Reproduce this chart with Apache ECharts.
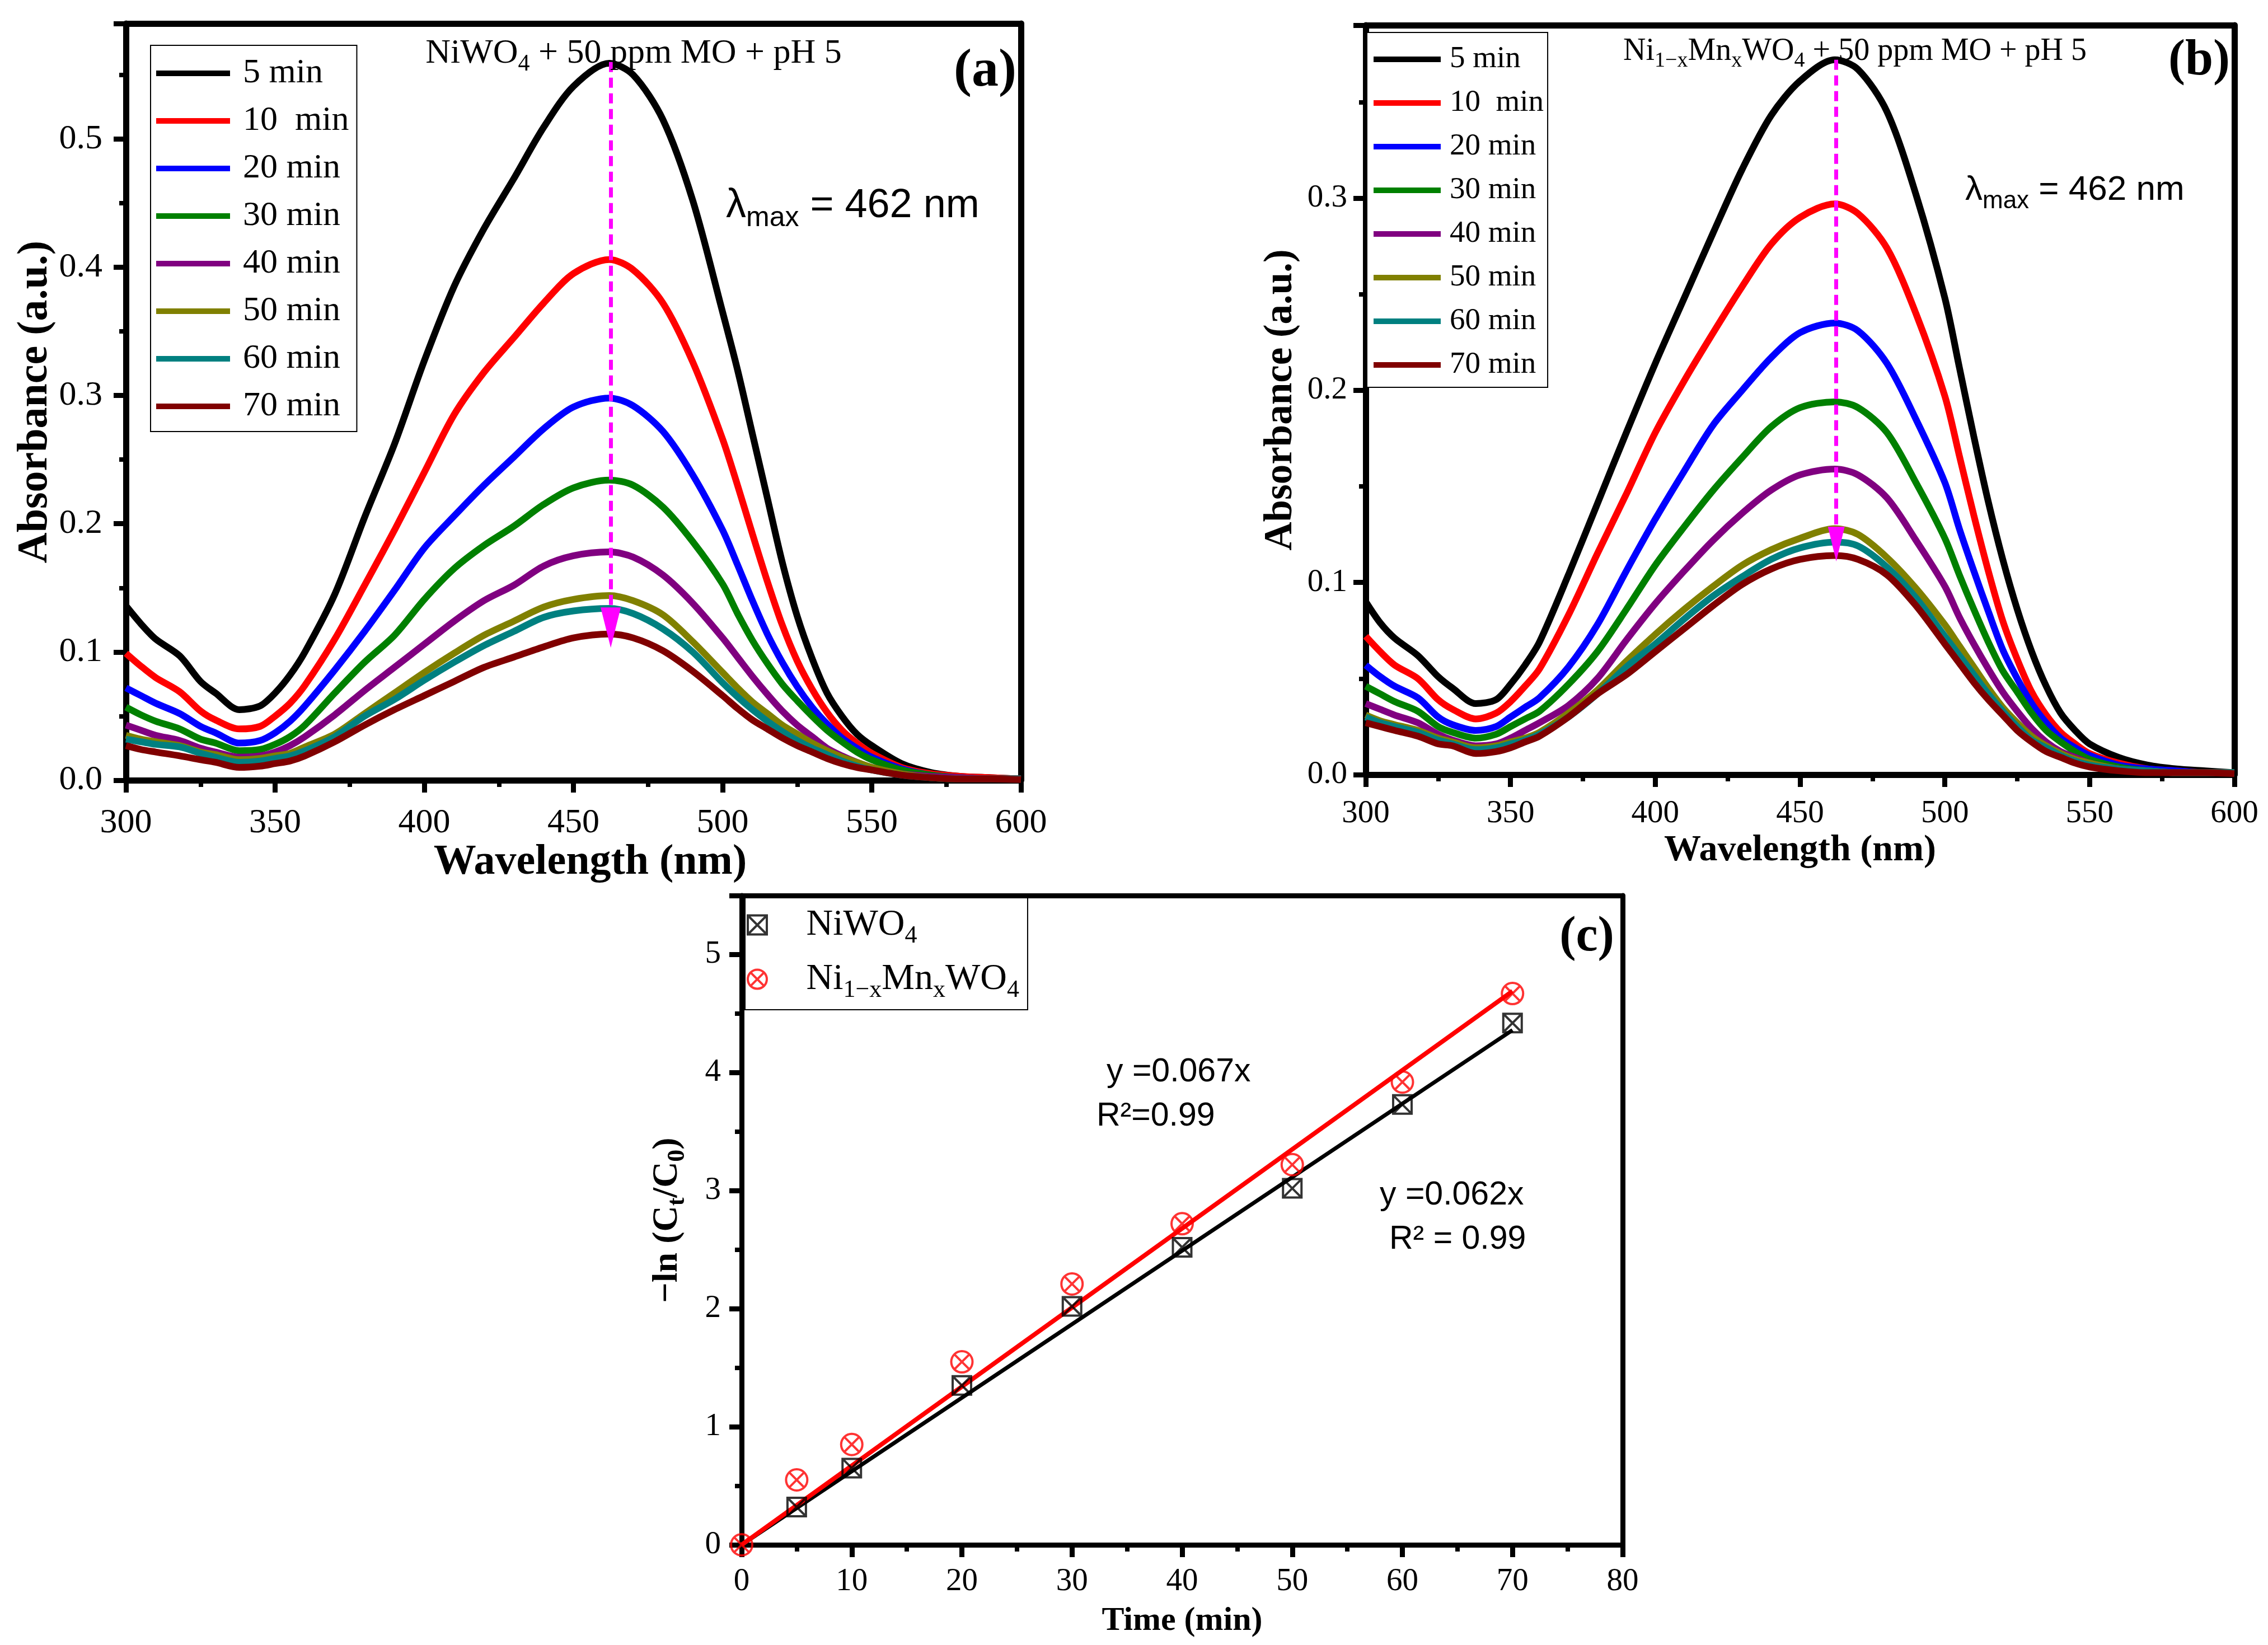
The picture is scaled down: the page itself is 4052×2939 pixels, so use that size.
<!DOCTYPE html>
<html>
<head>
<meta charset="utf-8">
<title>MO degradation spectra</title>
<script src="https://cdn.jsdelivr.net/npm/echarts@6/dist/echarts.min.js"></script>
<style>
  html, body { margin: 0; padding: 0; background: #fff; }
  #chart { width: 4052px; height: 2939px; }
</style>
</head>
<body>
<div id="chart"></div>
<script>
// wavelength grid (nm) shared by panels (a) and (b)
var wavelengths = [300, 305, 310, 318, 325, 330, 338, 345, 350, 355,
  360, 370, 380, 390, 400, 410, 420, 430, 440, 450,
  462, 470, 480, 490, 500, 505, 510, 515, 520, 525,
  530, 535, 540, 545, 550, 560, 570, 580, 590, 600];

var timeLabels = ['5 min', '10  min', '20 min', '30 min', '40 min', '50 min', '60 min', '70 min'];
var lineColors = ['#000000', '#FF0000', '#0000FF', '#008000', '#800080', '#808000', '#008080', '#800000'];

// (a) NiWO4 + 50 ppm MO + pH 5
var absA5 = [0.136, 0.122, 0.110, 0.097, 0.077, 0.068, 0.055, 0.058, 0.068, 0.082,
  0.100, 0.145, 0.205, 0.262, 0.327, 0.385, 0.430, 0.469, 0.509, 0.541,
  0.559, 0.550, 0.515, 0.452, 0.365, 0.320, 0.270, 0.220, 0.170, 0.128,
  0.095, 0.068, 0.050, 0.036, 0.027, 0.013, 0.006, 0.003, 0.002, 0.001];
var absA10 = [0.099, 0.089, 0.080, 0.069, 0.054, 0.047, 0.040, 0.042, 0.050, 0.060,
  0.074, 0.110, 0.152, 0.195, 0.240, 0.285, 0.318, 0.345, 0.372, 0.395,
  0.406, 0.398, 0.372, 0.326, 0.266, 0.230, 0.192, 0.155, 0.121, 0.093,
  0.071, 0.053, 0.039, 0.029, 0.021, 0.010, 0.005, 0.003, 0.002, 0.001];
var absA20 = [0.072, 0.066, 0.060, 0.052, 0.042, 0.037, 0.029, 0.031, 0.037, 0.046,
  0.058, 0.086, 0.116, 0.148, 0.181, 0.206, 0.230, 0.252, 0.274, 0.291,
  0.298, 0.292, 0.272, 0.238, 0.195, 0.168, 0.140, 0.114, 0.092, 0.073,
  0.057, 0.044, 0.033, 0.025, 0.018, 0.009, 0.004, 0.002, 0.001, 0.001];
var absA30 = [0.057, 0.051, 0.046, 0.040, 0.032, 0.029, 0.023, 0.024, 0.028, 0.034,
  0.043, 0.068, 0.092, 0.113, 0.141, 0.165, 0.183, 0.198, 0.215, 0.228,
  0.234, 0.230, 0.213, 0.186, 0.153, 0.130, 0.109, 0.091, 0.075, 0.062,
  0.050, 0.039, 0.030, 0.022, 0.016, 0.008, 0.004, 0.002, 0.001, 0.001];
var absA40 = [0.043, 0.039, 0.035, 0.031, 0.025, 0.022, 0.018, 0.019, 0.022, 0.027,
  0.034, 0.051, 0.070, 0.088, 0.106, 0.124, 0.140, 0.152, 0.167, 0.175,
  0.178, 0.174, 0.160, 0.138, 0.111, 0.096, 0.081, 0.067, 0.054, 0.043,
  0.034, 0.025, 0.019, 0.014, 0.010, 0.005, 0.003, 0.002, 0.001, 0.001];
var absA50 = [0.035, 0.032, 0.030, 0.027, 0.022, 0.020, 0.016, 0.017, 0.019, 0.021,
  0.026, 0.036, 0.052, 0.068, 0.084, 0.099, 0.113, 0.124, 0.135, 0.141,
  0.144, 0.140, 0.129, 0.108, 0.084, 0.072, 0.061, 0.052, 0.043, 0.036,
  0.029, 0.023, 0.018, 0.014, 0.010, 0.005, 0.002, 0.001, 0.001, 0.001];
var absA60 = [0.032, 0.030, 0.028, 0.026, 0.021, 0.018, 0.014, 0.015, 0.017, 0.019,
  0.023, 0.034, 0.050, 0.063, 0.078, 0.092, 0.105, 0.116, 0.127, 0.132,
  0.134, 0.130, 0.118, 0.100, 0.076, 0.065, 0.055, 0.046, 0.038, 0.031,
  0.025, 0.020, 0.015, 0.011, 0.008, 0.004, 0.002, 0.001, 0.001, 0.001];
var absA70 = [0.027, 0.024, 0.022, 0.019, 0.016, 0.014, 0.010, 0.011, 0.013, 0.015,
  0.019, 0.030, 0.043, 0.055, 0.066, 0.077, 0.088, 0.096, 0.104, 0.111,
  0.114, 0.111, 0.101, 0.085, 0.066, 0.056, 0.047, 0.040, 0.033, 0.027,
  0.022, 0.017, 0.013, 0.010, 0.008, 0.004, 0.002, 0.001, 0.001, 0.0005];

// (b) Ni1-xMnxWO4 + 50 ppm MO + pH 5
var absB5 = [0.090, 0.079, 0.071, 0.062, 0.051, 0.045, 0.037, 0.039, 0.047, 0.057,
  0.069, 0.104, 0.141, 0.178, 0.214, 0.248, 0.282, 0.315, 0.343, 0.361,
  0.372, 0.367, 0.345, 0.302, 0.248, 0.212, 0.176, 0.142, 0.112, 0.086,
  0.064, 0.046, 0.032, 0.023, 0.016, 0.009, 0.005, 0.003, 0.002, 0.001];
var absB10 = [0.072, 0.064, 0.057, 0.050, 0.039, 0.034, 0.029, 0.032, 0.038, 0.046,
  0.055, 0.083, 0.115, 0.146, 0.178, 0.205, 0.230, 0.254, 0.276, 0.290,
  0.297, 0.292, 0.274, 0.240, 0.197, 0.166, 0.135, 0.106, 0.080, 0.060,
  0.043, 0.031, 0.022, 0.016, 0.011, 0.006, 0.003, 0.002, 0.001, 0.001];
var absB20 = [0.057, 0.051, 0.046, 0.040, 0.030, 0.026, 0.023, 0.025, 0.030, 0.035,
  0.040, 0.056, 0.078, 0.106, 0.133, 0.158, 0.182, 0.200, 0.217, 0.230,
  0.235, 0.231, 0.214, 0.185, 0.152, 0.128, 0.106, 0.085, 0.065, 0.050,
  0.037, 0.027, 0.019, 0.014, 0.010, 0.005, 0.003, 0.002, 0.001, 0.001];
var absB30 = [0.046, 0.042, 0.038, 0.033, 0.025, 0.022, 0.019, 0.021, 0.025, 0.029,
  0.033, 0.047, 0.064, 0.086, 0.109, 0.129, 0.148, 0.165, 0.181, 0.191,
  0.194, 0.191, 0.178, 0.152, 0.123, 0.104, 0.086, 0.069, 0.054, 0.043,
  0.032, 0.023, 0.017, 0.012, 0.008, 0.004, 0.002, 0.001, 0.001, 0.001];
var absB40 = [0.037, 0.034, 0.031, 0.027, 0.021, 0.018, 0.015, 0.016, 0.019, 0.023,
  0.027, 0.036, 0.050, 0.070, 0.089, 0.106, 0.122, 0.136, 0.148, 0.156,
  0.159, 0.156, 0.144, 0.122, 0.098, 0.082, 0.068, 0.055, 0.043, 0.033,
  0.024, 0.017, 0.012, 0.009, 0.006, 0.003, 0.002, 0.001, 0.001, 0.001];
var absB50 = [0.031, 0.028, 0.026, 0.023, 0.019, 0.017, 0.014, 0.015, 0.017, 0.019,
  0.022, 0.032, 0.044, 0.059, 0.073, 0.086, 0.098, 0.109, 0.117, 0.123,
  0.128, 0.125, 0.113, 0.097, 0.078, 0.067, 0.056, 0.045, 0.035, 0.027,
  0.020, 0.015, 0.011, 0.008, 0.006, 0.003, 0.002, 0.001, 0.001, 0.001];
var absB60 = [0.030, 0.027, 0.025, 0.022, 0.018, 0.016, 0.013, 0.014, 0.016, 0.018,
  0.021, 0.030, 0.042, 0.056, 0.068, 0.081, 0.093, 0.103, 0.112, 0.118,
  0.121, 0.119, 0.108, 0.092, 0.072, 0.062, 0.052, 0.042, 0.033, 0.025,
  0.018, 0.014, 0.010, 0.007, 0.005, 0.003, 0.002, 0.001, 0.001, 0.001];
var absB70 = [0.027, 0.025, 0.023, 0.020, 0.016, 0.015, 0.011, 0.012, 0.014, 0.017,
  0.020, 0.030, 0.042, 0.052, 0.064, 0.076, 0.088, 0.099, 0.107, 0.112,
  0.114, 0.112, 0.104, 0.088, 0.068, 0.058, 0.048, 0.039, 0.031, 0.023,
  0.017, 0.012, 0.009, 0.006, 0.004, 0.002, 0.001, 0.001, 0.001, 0.0005];

// lambda max arrow: [wavelength, start absorbance, end absorbance]
var arrowA = [462.5, 0.560, 0.119];
var arrowB = [462.5, 0.372, 0.120];

// (c) kinetics, -ln(Ct/C0) vs time
var timeNiWO4 = [5, 10, 20, 30, 40, 50, 60, 70];
var lnNiWO4 = [0.32, 0.65, 1.35, 2.02, 2.52, 3.02, 3.73, 4.42];
var timeNiMnWO4 = [0, 5, 10, 20, 30, 40, 50, 60, 70];
var lnNiMnWO4 = [0, 0.55, 0.85, 1.55, 2.21, 2.72, 3.22, 3.92, 4.67];
var fitTime = [0, 70];
var fitNiWO4 = [0, 4.36];
var fitNiMnWO4 = [0, 4.69];

var serif = 'Liberation Serif';
var sans = 'Liberation Sans';

var squareX = 'path://M0,0 L40,0 L40,40 L0,40 Z M0,0 L40,40 M40,0 L0,40';
var circleX = 'path://M40,20 A20,20 0 1 1 0,20 A20,20 0 1 1 40,20 Z M6,6 L34,34 M34,6 L6,34';

function pairs(xs, ys) {
  return xs.map(function (x, i) { return [x, ys[i]]; });
}

function spectraSeries(arrays, idx, arrow, headSize) {
  return arrays.map(function (ys, i) {
    var s = {
      name: timeLabels[i],
      type: 'line',
      xAxisIndex: idx,
      yAxisIndex: idx,
      data: pairs(wavelengths, ys),
      symbol: 'none',
      smooth: 0.3,
      lineStyle: { color: lineColors[i], width: 12 },
      itemStyle: { color: lineColors[i] }
    };
    if (i === 0) {
      s.markLine = {
        silent: true,
        symbol: ['none', 'triangle'],
        label: { show: false },
        lineStyle: { color: '#FF00FF', type: [18, 10], width: 7 },
        itemStyle: { color: '#FF00FF' },
        data: [[
          { coord: [arrow[0], arrow[1]] },
          { coord: [arrow[0], arrow[2]], symbol: 'triangle', symbolSize: headSize }
        ]]
      };
    }
    return s;
  });
}

function axis(idx, lw, o) {
  return Object.assign({
    gridIndex: idx,
    type: 'value',
    splitLine: { show: false },
    axisLine: { show: true, onZero: false, lineStyle: { color: '#000', width: lw } },
    axisTick: { show: true, inside: false, length: 22, lineStyle: { color: '#000', width: 9 } },
    minorTick: { show: true, splitNumber: 2, length: 12, lineStyle: { color: '#000', width: 8 } },
    nameLocation: 'middle'
  }, o);
}

// plain frame edge (top / right side of a panel)
function edge(idx, lw, pos, min, max) {
  return {
    gridIndex: idx, type: 'value', position: pos, min: min, max: max,
    axisLine: { show: true, onZero: false, lineStyle: { color: '#000', width: lw } },
    axisTick: { show: false }, axisLabel: { show: false }, splitLine: { show: false }
  };
}

var labelFont = function (size, margin, fmt, hideMax) {
  var l = { fontFamily: serif, fontSize: size, color: '#000', margin: margin };
  if (fmt) l.formatter = fmt;
  if (hideMax) l.showMaxLabel = false;
  return l;
};
var titleFont = function (size) {
  return { fontFamily: serif, fontWeight: 'bold', fontSize: size, color: '#000' };
};
var oneDec = function (v) { return v.toFixed(1); };

var subRich = function (size, family, bold) {
  return { fontSize: size, fontFamily: family, fontWeight: bold ? 'bold' : 'normal', verticalAlign: 'bottom', lineHeight: size };
};

var option = {
  backgroundColor: '#fff',
  animation: false,
  grid: [
    { left: 225, top: 42, width: 1599, height: 1352 },
    { left: 2440, top: 45, width: 1552, height: 1339 },
    { left: 1325, top: 1600, width: 1574, height: 1160 }
  ],
  xAxis: [
    axis(0, 11, { min: 300, max: 600, interval: 50, axisLabel: labelFont(62, 46),
      name: 'Wavelength (nm)', nameGap: 97,
      nameTextStyle: Object.assign(titleFont(76), { padding: [0, 0, 0, 60] }) }),
    axis(1, 11, { min: 300, max: 600, interval: 50, axisLabel: labelFont(57, 42),
      name: 'Wavelength (nm)', nameGap: 103, nameTextStyle: titleFont(66) }),
    axis(2, 9, { min: 0, max: 80, interval: 10, axisLabel: labelFont(57, 38),
      name: 'Time (min)', nameGap: 106, nameTextStyle: titleFont(60) }),
    edge(0, 11, 'top', 300, 600),
    edge(1, 11, 'top', 300, 600),
    edge(2, 9, 'top', 0, 80)
  ],
  yAxis: [
    axis(0, 11, { min: 0, max: 0.59, interval: 0.1, axisLabel: labelFont(62, 42, oneDec, true),
      name: 'Absorbance (a.u.)', nameGap: 100, nameRotate: 90, nameTextStyle: titleFont(76) }),
    axis(1, 11, { min: 0, max: 0.39, interval: 0.1, axisLabel: labelFont(57, 33, oneDec, true),
      name: 'Absorbance (a.u.)', nameGap: 116, nameRotate: 90, nameTextStyle: titleFont(71) }),
    axis(2, 9, { min: 0, max: 5.5, interval: 1, axisLabel: labelFont(57, 37, null, true),
      name: '−ln (C{s|t}/C{s|0})', nameGap: 92, nameRotate: 90,
      nameTextStyle: Object.assign(titleFont(64), { lineHeight: 81, rich: { s: subRich(44, serif, true) } }) }),
    edge(0, 11, 'right', 0, 0.59),
    edge(1, 11, 'right', 0, 0.39),
    edge(2, 9, 'right', 0, 5.5)
  ],
  legend: [
    {
      orient: 'vertical', left: 269, top: 81,
      data: timeLabels, icon: 'rect', itemWidth: 132, itemHeight: 10, itemGap: 23,
      padding: [19, 14, 14, 10], borderColor: '#000', borderWidth: 2, backgroundColor: '#fff',
      textStyle: { fontFamily: serif, fontSize: 62, lineHeight: 62, color: '#000', padding: [0, 0, 0, 18] }
    },
    {
      orient: 'vertical', left: 2442, top: 58,
      data: timeLabels, icon: 'rect', itemWidth: 120, itemHeight: 10, itemGap: 22,
      padding: [20, 7, 12, 12], borderColor: '#000', borderWidth: 2, backgroundColor: '#fff',
      textStyle: { fontFamily: serif, fontSize: 55, lineHeight: 56, color: '#000', padding: [0, 0, 0, 11] }
    },
    {
      orient: 'vertical', left: 1331, top: 1604,
      data: ['NiWO4', 'Ni1-xMnxWO4'], itemWidth: 165, itemHeight: 34, itemGap: 14,
      padding: [7, 15, 13, 3], borderColor: '#000', borderWidth: 2,
      itemStyle: { borderWidth: 4 },
      formatter: function (name) {
        return name === 'NiWO4' ? 'NiWO{s|4}' : 'Ni{s|1−x}Mn{s|x}WO{s|4}';
      },
      textStyle: { fontFamily: serif, fontSize: 66, lineHeight: 83, color: '#000', rich: { s: subRich(44, serif) } }
    }
  ],
  series: []
    .concat(spectraSeries([absA5, absA10, absA20, absA30, absA40, absA50, absA60, absA70], 0, arrowA, [36, 72]))
    .concat(spectraSeries([absB5, absB10, absB20, absB30, absB40, absB50, absB60, absB70], 1, arrowB, [30, 62]))
    .concat([
      { name: 'fit NiWO4', type: 'line', xAxisIndex: 2, yAxisIndex: 2, data: pairs(fitTime, fitNiWO4),
        symbol: 'none', lineStyle: { color: '#000', width: 7 }, z: 2 },
      { name: 'fit Ni1-xMnxWO4', type: 'line', xAxisIndex: 2, yAxisIndex: 2, data: pairs(fitTime, fitNiMnWO4),
        symbol: 'none', lineStyle: { color: '#FF0000', width: 8 }, z: 2 },
      { name: 'NiWO4', type: 'scatter', xAxisIndex: 2, yAxisIndex: 2, data: pairs(timeNiWO4, lnNiWO4),
        symbol: squareX, symbolSize: 33, itemStyle: { color: 'rgba(0,0,0,0)', borderColor: '#000', borderWidth: 4 }, z: 3 },
      { name: 'Ni1-xMnxWO4', type: 'scatter', xAxisIndex: 2, yAxisIndex: 2, data: pairs(timeNiMnWO4, lnNiMnWO4),
        symbol: circleX, symbolSize: 38, itemStyle: { color: 'rgba(0,0,0,0)', borderColor: '#FF0000', borderWidth: 4 }, z: 3 }
    ]),
  graphic: [
    { type: 'text', x: 1132, y: 96, z: 100, style: {
      text: 'NiWO{s|4} + 50 ppm MO + pH 5', fontFamily: serif, fontSize: 62, lineHeight: 80,
      fill: '#000', align: 'center', verticalAlign: 'middle', rich: { s: subRich(42, serif) } } },
    { type: 'text', x: 3314, y: 92, z: 100, style: {
      text: 'Ni{s|1−x}Mn{s|x}WO{s|4} + 50 ppm MO + pH 5', fontFamily: serif, fontSize: 56, lineHeight: 72,
      fill: '#000', align: 'center', verticalAlign: 'middle', rich: { s: subRich(38, serif) } } },
    { type: 'text', x: 1760, y: 128, z: 100, style: {
      text: '(a)', fontFamily: serif, fontWeight: 'bold', fontSize: 96, fill: '#000', align: 'center', verticalAlign: 'middle' } },
    { type: 'text', x: 3929, y: 110, z: 100, style: {
      text: '(b)', fontFamily: serif, fontWeight: 'bold', fontSize: 90, fill: '#000', align: 'center', verticalAlign: 'middle' } },
    { type: 'text', x: 2835, y: 1675, z: 100, style: {
      text: '(c)', fontFamily: serif, fontWeight: 'bold', fontSize: 88, fill: '#000', align: 'center', verticalAlign: 'middle' } },
    { type: 'text', x: 1297, y: 368, z: 100, style: {
      text: 'λ{s|max} = 462 nm', fontFamily: sans, fontSize: 72, lineHeight: 95,
      fill: '#000', align: 'left', verticalAlign: 'middle', rich: { s: subRich(50, sans) } } },
    { type: 'text', x: 3511, y: 340, z: 100, style: {
      text: 'λ{s|max} = 462 nm', fontFamily: sans, fontSize: 62, lineHeight: 83,
      fill: '#000', align: 'left', verticalAlign: 'middle', rich: { s: subRich(44, sans) } } },
    { type: 'text', x: 1977, y: 1916, z: 100, style: {
      text: 'y =0.067x', fontFamily: sans, fontSize: 59, fill: '#000', align: 'left', verticalAlign: 'middle' } },
    { type: 'text', x: 1959, y: 1995, z: 100, style: {
      text: 'R²=0.99', fontFamily: sans, fontSize: 59, fill: '#000', align: 'left', verticalAlign: 'middle' } },
    { type: 'text', x: 2465, y: 2136, z: 100, style: {
      text: 'y =0.062x', fontFamily: sans, fontSize: 59, fill: '#000', align: 'left', verticalAlign: 'middle' } },
    { type: 'text', x: 2482, y: 2215, z: 100, style: {
      text: 'R² = 0.99', fontFamily: sans, fontSize: 59, fill: '#000', align: 'left', verticalAlign: 'middle' } }
  ]
};

var chart = echarts.init(document.getElementById('chart'));
chart.setOption(option);
</script>
</body>
</html>
